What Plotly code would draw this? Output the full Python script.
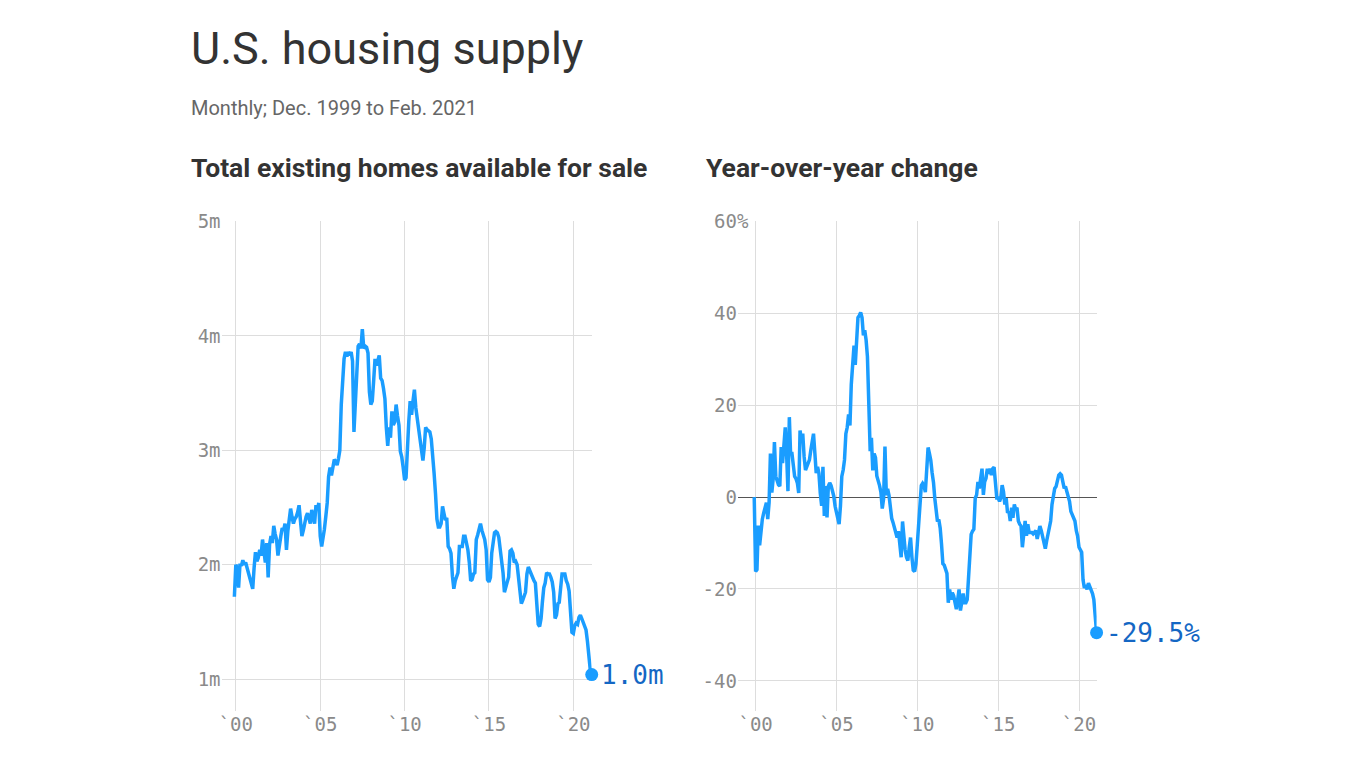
import pandas as pd
import plotly.graph_objects as go

# ---------------- data ----------------
# Total existing homes available for sale, millions, monthly Dec 1999 - Feb 2021
inv_1999 = [1.72]
inv_2000 = [2.00, 1.97, 1.80, 2.01, 1.99, 2.04, 2.00, 2.02, 1.97, 1.93, 1.90, 1.85]
inv_2001 = [1.79, 1.98, 2.11, 2.03, 2.06, 2.13, 2.08, 2.22, 2.10, 2.02, 2.19, 1.89]
inv_2002 = [2.18, 2.25, 2.19, 2.34, 2.27, 2.22, 2.08, 2.20, 2.25, 2.32, 2.30, 2.36]
inv_2003 = [2.13, 2.30, 2.39, 2.49, 2.42, 2.36, 2.40, 2.42, 2.46, 2.52, 2.38, 2.25]
inv_2004 = [2.30, 2.39, 2.42, 2.45, 2.40, 2.36, 2.48, 2.42, 2.36, 2.52, 2.48, 2.54]
inv_2005 = [2.25, 2.16, 2.22, 2.31, 2.42, 2.54, 2.77, 2.85, 2.78, 2.86, 2.92, 2.90]
inv_2006 = [2.87, 2.93, 3.00, 3.40, 3.65, 3.80, 3.86, 3.82, 3.86, 3.83, 3.86, 3.78]
inv_2007 = [3.16, 3.40, 3.74, 3.91, 3.93, 3.89, 4.06, 3.89, 3.91, 3.90, 3.85, 3.51]
inv_2008 = [3.40, 3.43, 3.60, 3.80, 3.74, 3.78, 3.83, 3.63, 3.61, 3.54, 3.45, 3.20]
inv_2009 = [3.04, 3.20, 3.11, 3.34, 3.22, 3.25, 3.40, 3.30, 3.22, 2.99, 2.94, 2.85]
inv_2010 = [2.74, 2.76, 3.08, 3.25, 3.43, 3.31, 3.43, 3.53, 3.37, 3.28, 3.17, 3.05]
inv_2011 = [2.97, 2.91, 3.02, 3.20, 3.18, 3.17, 3.16, 3.10, 2.97, 2.80, 2.62, 2.40]
inv_2012 = [2.33, 2.33, 2.36, 2.51, 2.45, 2.39, 2.41, 2.16, 2.14, 2.10, 1.90, 1.79]
inv_2013 = [1.86, 1.90, 1.93, 2.16, 2.16, 2.16, 2.25, 2.25, 2.19, 2.13, 2.02, 1.86]
inv_2014 = [1.87, 1.92, 1.93, 2.22, 2.26, 2.30, 2.36, 2.30, 2.25, 2.22, 2.13, 1.87]
inv_2015 = [1.85, 1.89, 2.10, 2.22, 2.28, 2.29, 2.28, 2.24, 2.13, 2.07, 1.93, 1.76]
inv_2016 = [1.82, 1.85, 1.89, 2.12, 2.13, 2.10, 2.02, 2.03, 2.00, 1.90, 1.76, 1.66]
inv_2017 = [1.69, 1.72, 1.76, 1.92, 1.98, 1.95, 1.92, 1.88, 1.86, 1.84, 1.67, 1.48]
inv_2018 = [1.46, 1.53, 1.67, 1.80, 1.84, 1.93, 1.92, 1.92, 1.89, 1.85, 1.76, 1.53]
inv_2019 = [1.56, 1.66, 1.67, 1.84, 1.92, 1.92, 1.92, 1.86, 1.83, 1.77, 1.61, 1.41]
inv_2020 = [1.40, 1.47, 1.49, 1.48, 1.54, 1.56, 1.53, 1.50, 1.47, 1.43, 1.33, 1.16]
inv_2021 = [1.08, 1.04]

# Year-over-year change, percent
yoy_1999 = [0.0]
yoy_2000 = [-16.2, -15.8, -6.2, -10.5, -7.5, -4.8, -3.5, -1.9, -1.2, -4.8, -1.2, 9.5]
yoy_2001 = [1.0, 4.0, 12.0, 4.5, 3.5, 2.7, 2.4, 10.9, 7.4, 10.9, 15.2, 9.5]
yoy_2002 = [1.3, 17.4, 9.5, 9.5, 6.6, 4.5, 4.0, 3.1, 0.9, 14.5, 12.4, 13.8]
yoy_2003 = [8.8, 5.9, 6.6, 7.5, 8.1, 10.2, 12.0, 13.8, 9.5, 5.2, 6.6, 5.2]
yoy_2004 = [0.9, -1.9, 6.6, -4.1, 2.4, -4.4, 2.4, 3.1, 2.5, 1.6, 0.2, -2.0]
yoy_2005 = [-3.4, -4.8, -5.9, -1.9, 4.5, 5.9, 8.1, 13.8, 15.2, 18.0, 15.6, 24.5]
yoy_2006 = [28.8, 33.0, 28.8, 33.8, 39.1, 39.5, 40.2, 39.1, 35.2, 36.3, 34.2, 30.6]
yoy_2007 = [19.4, 10.0, 12.9, 5.8, 9.5, 8.6, 4.6, 3.7, 2.5, 1.1, -2.5, -0.4]
yoy_2008 = [11.0, 0.4, 1.8, 0.4, -2.5, -4.6, -5.5, -6.7, -7.4, -8.8, -7.4, -10.2]
yoy_2009 = [-13.1, -5.3, -9.5, -11.5, -13.1, -13.8, -11.0, -8.8, -13.1, -15.9, -16.2, -14.5]
yoy_2010 = [-10.2, -5.3, -1.1, 2.5, 3.0, 2.5, 1.1, 7.4, 10.8, 9.5, 8.0, 5.3]
yoy_2011 = [3.2, -0.4, -2.5, -5.3, -4.9, -6.7, -10.2, -14.5, -14.8, -15.9, -16.6, -23.0]
yoy_2012 = [-20.1, -22.3, -20.8, -21.5, -23.0, -24.4, -22.3, -20.1, -24.7, -23.0, -21.0, -23.0]
yoy_2013 = [-23.0, -22.3, -17.3, -12.4, -8.1, -7.4, -7.0, -0.2, 0.5, 3.3, 1.9, 4.0]
yoy_2014 = [6.2, 0.5, 3.3, 4.1, 6.2, 5.1, 6.2, 4.8, 6.2, 6.5, 3.3, -0.2]
yoy_2015 = [-0.2, -0.9, -0.2, 2.6, 1.2, -1.6, -0.2, -3.4, -3.1, -5.2, -2.3, -4.5]
yoy_2016 = [-1.6, -2.7, -2.3, -5.2, -5.9, -6.3, -10.9, -7.0, -5.2, -8.4, -5.9, -7.7]
yoy_2017 = [-7.7, -7.7, -8.0, -7.5, -7.3, -9.1, -8.0, -6.3, -7.3, -8.8, -9.5, -11.2]
yoy_2018 = [-9.5, -8.0, -6.5, -5.2, -1.6, -0.2, 1.9, 2.3, 3.3, 4.8, 5.1, 4.8]
yoy_2019 = [3.3, 1.9, 2.3, 1.2, -0.2, -0.9, -3.1, -3.8, -4.5, -5.2, -7.3, -8.5]
yoy_2020 = [-10.9, -11.6, -12.0, -18.0, -19.8, -19.1, -20.1, -18.7, -19.5, -20.1, -21.0, -22.3]
yoy_2021 = [-25.1, -29.5]

x_tick_dates = ["2000-01-01", "2005-01-01", "2010-01-01", "2015-01-01", "2020-01-01"]
x_tick_text = ["`00", "`05", "`10", "`15", "`20"]
inv_tick_vals = [1, 2, 3, 4, 5]
inv_tick_text = ["1m", "2m", "3m", "4m", "5m"]
yoy_tick_vals = [-40, -20, 0, 20, 40, 60]
# a no-break space pads the labels so the "%" of the top label hangs to the right
yoy_tick_text = ["-40\u00a0", "-20\u00a0", "0\u00a0", "20\u00a0", "40\u00a0", "60%"]

inventory = (inv_1999 + inv_2000 + inv_2001 + inv_2002 + inv_2003 + inv_2004 + inv_2005
             + inv_2006 + inv_2007 + inv_2008 + inv_2009 + inv_2010 + inv_2011 + inv_2012
             + inv_2013 + inv_2014 + inv_2015 + inv_2016 + inv_2017 + inv_2018 + inv_2019
             + inv_2020 + inv_2021)
yoy = (yoy_1999 + yoy_2000 + yoy_2001 + yoy_2002 + yoy_2003 + yoy_2004 + yoy_2005
       + yoy_2006 + yoy_2007 + yoy_2008 + yoy_2009 + yoy_2010 + yoy_2011 + yoy_2012
       + yoy_2013 + yoy_2014 + yoy_2015 + yoy_2016 + yoy_2017 + yoy_2018 + yoy_2019
       + yoy_2020 + yoy_2021)
months = pd.date_range("1999-12-01", periods=len(inventory), freq="MS")

# ---------------- styling ----------------
PAGE_MARGIN = 8            # default body margin of the html page
FW, FH = 1366 - 2 * PAGE_MARGIN, 768 - 2 * PAGE_MARGIN
LINE = "#1a9dff"
LABEL_BLUE = "#1467c4"
GRID = "#dddddd"
TICK = "#8a8a8a"
MONO = "DejaVu Sans Mono"
SANS = "Roboto"
TICK_SIZE = 19


def px_x(p):
    """screen pixel -> paper x"""
    return (p - PAGE_MARGIN) / FW


def px_y(p):
    """screen pixel -> paper y"""
    return 1 - (p - PAGE_MARGIN) / FH


fig = go.Figure()

fig.add_trace(go.Scatter(x=months, y=inventory, mode="lines",
                         line=dict(color=LINE, width=3.5), xaxis="x", yaxis="y",
                         hoverinfo="skip", showlegend=False))
fig.add_trace(go.Scatter(x=[months[-1]], y=[inventory[-1]], mode="markers",
                         marker=dict(color=LINE, size=13), xaxis="x", yaxis="y",
                         cliponaxis=False, hoverinfo="skip", showlegend=False))
fig.add_trace(go.Scatter(x=months, y=yoy, mode="lines",
                         line=dict(color=LINE, width=3.5), xaxis="x2", yaxis="y2",
                         hoverinfo="skip", showlegend=False))
fig.add_trace(go.Scatter(x=[months[-1]], y=[yoy[-1]], mode="markers",
                         marker=dict(color=LINE, size=13), xaxis="x2", yaxis="y2",
                         cliponaxis=False, hoverinfo="skip", showlegend=False))

ydom = [px_y(710), px_y(213.5)]
xaxis_common = dict(type="date", tickvals=x_tick_dates, ticktext=x_tick_text,
                    showgrid=True, gridcolor=GRID, gridwidth=1, zeroline=False,
                    showline=False, ticks="",
                    tickfont=dict(family=MONO, size=TICK_SIZE, color=TICK),
                    fixedrange=True)
yaxis_common = dict(showgrid=True, gridcolor=GRID, gridwidth=1, showline=False, ticks="",
                    tickfont=dict(family=MONO, size=TICK_SIZE, color=TICK), fixedrange=True)

fig.update_layout(
    width=FW, height=FH, autosize=False,
    margin=dict(l=0, r=0, t=0, b=0),
    paper_bgcolor="white", plot_bgcolor="white",
    xaxis=dict(domain=[px_x(219), px_x(590)], range=["1999-02-26", "2021-02-01"],
               anchor="y", **xaxis_common),
    yaxis=dict(domain=ydom, range=[0.724, 5.0], tickvals=inv_tick_vals,
               ticktext=inv_tick_text, zeroline=False, anchor="x",
               ticklabelstandoff=0, **yaxis_common),
    xaxis2=dict(domain=[px_x(737), px_x(1096)], range=["1998-12-08", "2021-02-01"],
                anchor="y2", **xaxis_common),
    yaxis2=dict(domain=ydom, range=[-46.5, 60], tickvals=yoy_tick_vals,
                ticktext=yoy_tick_text, zeroline=True, zerolinecolor="#555555",
                zerolinewidth=1, anchor="x2", ticklabelstandoff=-11, **yaxis_common),
)

annotations = [
    dict(text="U.S. housing supply", x=px_x(186), y=px_y(38), xref="paper", yref="paper",
         xanchor="left", yanchor="middle", showarrow=False,
         font=dict(family=SANS, size=45, color="#333333")),
    dict(text="Monthly; Dec. 1999 to Feb. 2021", x=px_x(186), y=px_y(98), xref="paper",
         yref="paper", xanchor="left", yanchor="middle", showarrow=False,
         font=dict(family=SANS, size=20, color="#666666")),
    dict(text="<b>Total existing homes available for sale</b>", x=px_x(186), y=px_y(159),
         xref="paper", yref="paper", xanchor="left", yanchor="middle", showarrow=False,
         font=dict(family=SANS, size=26.5, color="#333333")),
    dict(text="<b>Year-over-year change</b>", x=px_x(703), y=px_y(159),
         xref="paper", yref="paper", xanchor="left", yanchor="middle", showarrow=False,
         font=dict(family=SANS, size=26.5, color="#333333")),
    dict(text=f"{inventory[-1]:.1f}m", x=months[-1], y=inventory[-1], xref="x", yref="y",
         xanchor="left", yanchor="middle", xshift=7, showarrow=False,
         font=dict(family=MONO, size=26, color=LABEL_BLUE)),
    dict(text=f"{yoy[-1]:.1f}%", x=months[-1], y=yoy[-1], xref="x2", yref="y2",
         xanchor="left", yanchor="middle", xshift=7, showarrow=False,
         font=dict(family=MONO, size=26, color=LABEL_BLUE)),
]
fig.update_layout(annotations=annotations)

# the 60% gridline starts after the hanging "%" sign (drawn above grid, below labels)
fig.add_shape(type="rect", xref="paper", yref="y2", x0=px_x(736), x1=px_x(751.5),
              y0=59.4, y1=60.6, fillcolor="white", line=dict(width=0), layer="between")

fig.write_html("out.html", config={"displayModeBar": False})
